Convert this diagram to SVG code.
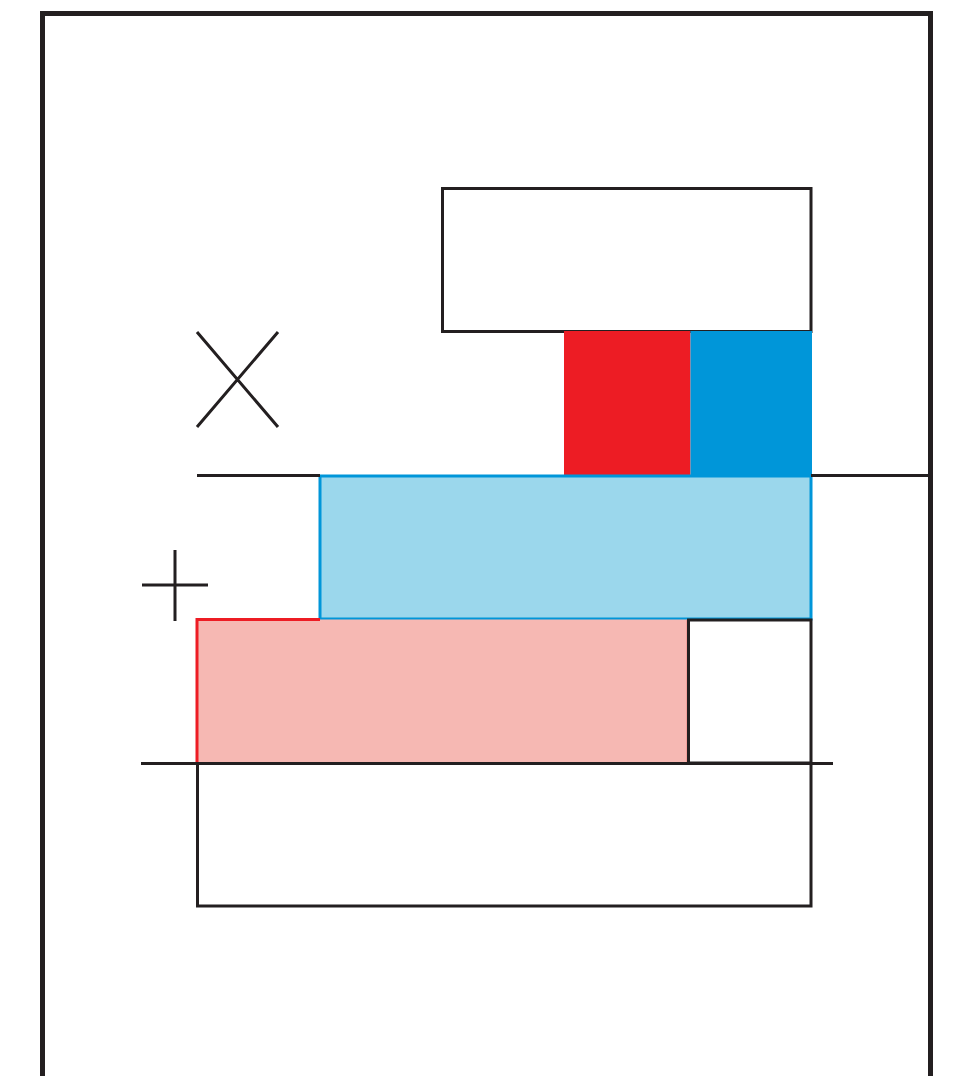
<svg xmlns="http://www.w3.org/2000/svg" width="956" height="1076" viewBox="0 0 956 1076">
<style>
.k{fill:none;stroke:#231f20;stroke-width:3}
.w{fill:#fff;stroke:#231f20;stroke-width:3}
</style>
<rect width="956" height="1076" fill="#fff"/>
<g id="frame"><path d="M42.5,1080 V13.5 H930.5 V1080" fill="none" stroke="#231f20" stroke-width="5"/></g>
<g id="top-box"><rect class="w" x="442.5" y="188.5" width="368.5" height="143"/></g>
<g id="red-square"><rect x="564" y="331" width="126.5" height="145" fill="#ed1c24"/></g>
<g id="blue-square"><rect x="690.5" y="331" width="121.5" height="145" fill="#0096d9"/></g>
<g id="lightblue-bar"><rect x="320" y="476" width="491" height="143" fill="#9bd7ec" stroke="#0096d9" stroke-width="3"/></g>
<g id="pink-bar"><rect x="197" y="619.5" width="491" height="143.5" fill="#f6b8b3"/><path d="M197,763 V619.5 H320" fill="none" stroke="#ed1c24" stroke-width="3"/><path d="M687.5,620 V763" stroke="#f15a5a" stroke-width="1.5"/></g>
<g id="white-box"><rect class="w" x="688.5" y="620" width="122.5" height="143"/></g>
<g id="bottom-box"><rect class="w" x="197.5" y="763.5" width="613.5" height="142.5"/></g>
<g id="x-mark"><path class="k" d="M197,332 L278,427 M278,332 L197,427"/></g>
<g id="plus-mark"><path class="k" d="M175,550 V621 M142,585 H208"/></g>
<g id="connectors">
<path class="k" d="M197,475.5 H320"/>
<path class="k" d="M811,475.5 H933"/>
<path class="k" d="M141,763.5 H833"/>
</g>
</svg>
